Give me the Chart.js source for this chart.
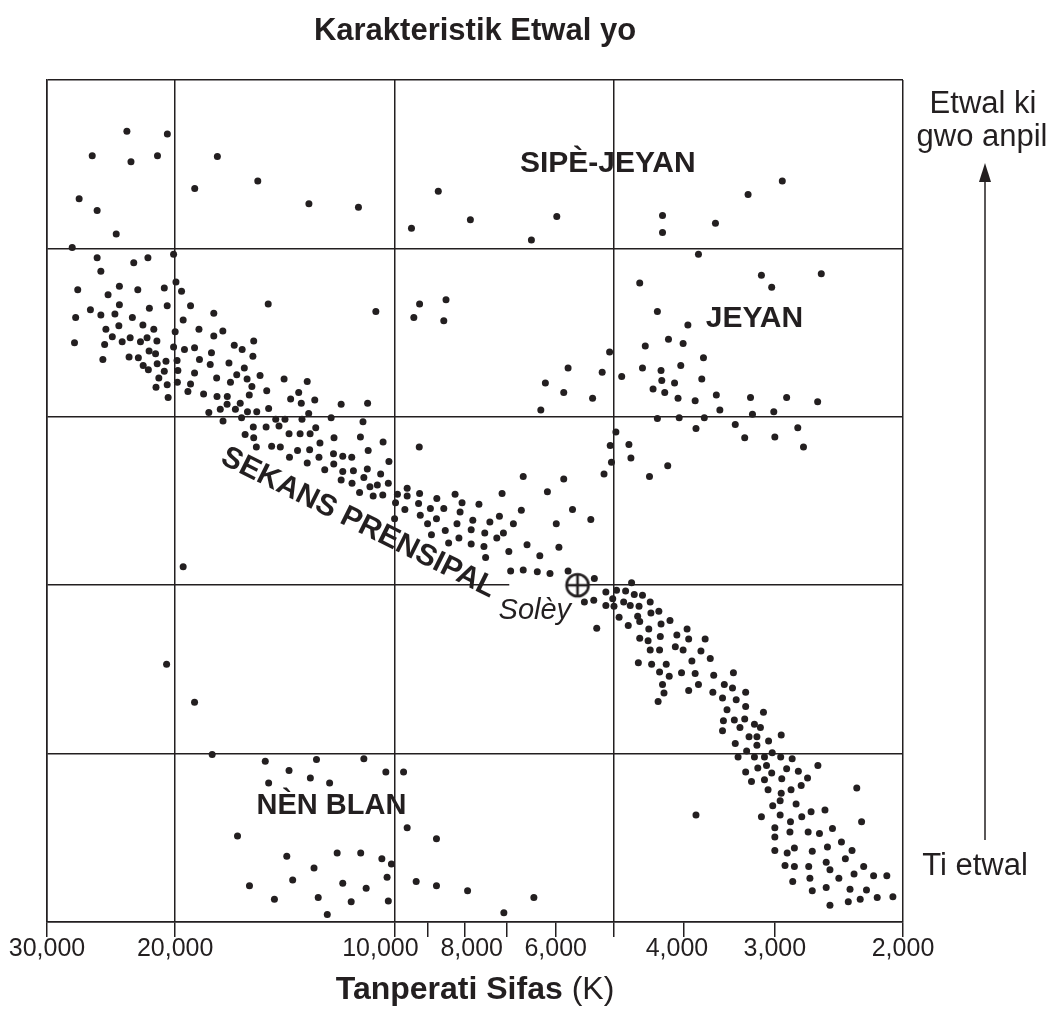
<!DOCTYPE html>
<html>
<head>
<meta charset="utf-8">
<script src="https://cdn.jsdelivr.net/npm/chart.js@4.4.1/dist/chart.umd.min.js"></script>
<style>
  html, body { margin: 0; padding: 0; background: #fff; }
</style>
</head>
<body>
<canvas id="graficoEtwal" width="1047" height="1018"></canvas>
<script>
// Surface temperature (K) of the axis ticks
const labeledTemps = [30000, 20000, 10000, 8000, 6000, 4000, 3000, 2000];
const tickTemps = [30000, 20000, 10000, 9000, 8000, 7000, 6000, 5000, 4000, 3000, 2000];
const gridTemps = [30000, 20000, 10000, 5000, 2000];

// Stars as [temperature K, log luminosity]
const superGiants = [
  [23300, 5.39], [20500, 5.36], [26000, 5.10], [23000, 5.03], [21150, 5.10], [17500, 5.09],
  [15400, 4.80], [18800, 4.71], [13100, 4.53], [27100, 4.59], [25600, 4.45], [24100, 4.17],
  [11200, 4.49], [8700, 4.68], [9470, 4.24], [7860, 4.34], [6480, 4.10], [5980, 4.38],
  [4280, 4.39], [4280, 4.19], [3620, 4.30], [3265, 4.64], [2930, 4.80]
];

const giants = [
  [3820, 3.93], [4600, 3.59], [3130, 3.68], [2590, 3.70], [3030, 3.54], [4350, 3.25], [3950, 3.09],
  [5060, 2.77], [4520, 2.84], [4200, 2.92], [4010, 2.87], [3760, 2.70], [4560, 2.58], [4300, 2.55],
  [4040, 2.61], [4870, 2.48], [4290, 2.43], [4120, 2.40], [3780, 2.45], [4410, 2.33], [4250, 2.29],
  [4075, 2.22], [3860, 2.19], [3610, 2.26], [3240, 2.23], [2890, 2.23], [2620, 2.18], [3570, 2.08],
  [3220, 2.03], [3010, 2.06], [4350, 1.98], [4060, 1.99], [3750, 1.99], [3850, 1.86], [3400, 1.91],
  [3300, 1.75], [3000, 1.76], [2790, 1.87], [2740, 1.64], [4960, 1.82], [5050, 1.66], [4760, 1.67],
  [5030, 1.46], [4730, 1.51], [4210, 1.42], [4460, 1.29], [5770, 2.58], [6200, 2.40], [5180, 2.53],
  [5850, 2.29], [5340, 2.22], [6290, 2.08], [10600, 3.25], [9230, 3.34], [8490, 3.39], [9400, 3.18],
  [8550, 3.14]
];

const mainSequence = [
  [27700, 4.01], [25600, 3.89], [22800, 3.83], [21800, 3.89], [20100, 3.93], [25300, 3.73], [19950, 3.60],
  [27220, 3.51], [23860, 3.55], [22510, 3.51], [20700, 3.53], [19600, 3.49], [24730, 3.45], [26150, 3.27],
  [23860, 3.33], [21700, 3.29], [20510, 3.32], [19050, 3.32], [27400, 3.18], [25300, 3.21], [24200, 3.22],
  [22900, 3.18], [19500, 3.15], [17700, 3.23], [14900, 3.34], [24900, 3.04], [23900, 3.08], [22150, 3.09],
  [21400, 3.04], [20000, 3.01], [18550, 3.04], [17200, 3.02], [17700, 2.96], [27500, 2.88], [25000, 2.86],
  [24400, 2.95], [23650, 2.89], [23060, 2.94], [22320, 2.89], [21860, 2.94], [21190, 2.90], [20100, 2.83],
  [19420, 2.80], [18810, 2.82], [16590, 2.85], [16180, 2.80], [15600, 2.90], [21720, 2.78], [21280, 2.75],
  [25140, 2.68], [23140, 2.71], [22470, 2.70], [20590, 2.66], [19880, 2.67], [18520, 2.68], [17830, 2.76],
  [15640, 2.72], [22130, 2.61], [21170, 2.63], [17900, 2.62], [16870, 2.64], [16070, 2.58], [21770, 2.56],
  [20700, 2.54], [19830, 2.55], [18810, 2.52], [16460, 2.50], [15290, 2.49], [21060, 2.46], [17540, 2.46],
  [15930, 2.45], [14170, 2.45], [13170, 2.42], [20510, 2.38], [19860, 2.41], [19050, 2.39], [16790, 2.41],
  [15690, 2.36], [21250, 2.35], [19210, 2.30], [18280, 2.27], [17520, 2.24], [16960, 2.24], [15820, 2.26],
  [14970, 2.31], [13530, 2.29], [20450, 2.23], [13880, 2.21], [13420, 2.16], [12860, 2.20], [16970, 2.15],
  [16280, 2.16], [17340, 2.09], [17980, 2.05], [16530, 2.09], [15910, 2.06], [15450, 2.06], [14880, 2.10],
  [13110, 2.04], [17190, 1.95], [16210, 1.99], [14550, 1.97], [14130, 1.97], [13390, 1.97], [12210, 1.99],
  [15620, 1.88], [15000, 1.88], [14400, 1.89], [12820, 1.87], [16030, 1.79], [15600, 1.75], [13950, 1.80],
  [13470, 1.80], [13050, 1.80], [12650, 1.69], [15470, 1.64], [14740, 1.65], [14340, 1.64], [13580, 1.60],
  [13070, 1.61], [13930, 1.52], [12690, 1.52], [13170, 1.45], [12460, 1.37],
  [11830, 2.15], [10880, 2.16], [11040, 1.94], [12100, 1.75], [11130, 1.76], [10360, 1.70], [10860, 1.60],
  [12120, 1.56], [11770, 1.53], [11440, 1.52], [10170, 1.47], [12110, 1.44], [11770, 1.35], [11380, 1.36],
  [10890, 1.38], [10440, 1.32], [11010, 1.28], [11830, 1.25], [11430, 1.21], [10800, 1.17], [10550, 1.19],
  [10190, 1.21], [11160, 1.10], [10690, 1.06], [10370, 1.07], [9900, 1.08], [9600, 1.15], [9600, 1.06],
  [9230, 1.09], [8740, 1.03], [8250, 1.08], [9240, 1.64],
  [6650, 1.29], [6160, 1.11], [5850, 1.26], [5150, 1.32], [7110, 1.09],
  [9960, 0.98], [9670, 0.90], [9260, 0.97], [8920, 0.91], [8550, 0.91], [8070, 0.98], [8120, 0.87],
  [7650, 0.96], [9990, 0.79], [9210, 0.83], [9000, 0.73], [8750, 0.79], [8200, 0.73], [7800, 0.77],
  [7390, 0.75], [7170, 0.82], [6860, 0.73], [6690, 0.89], [5690, 0.90], [5370, 0.78], [5990, 0.73],
  [8510, 0.65], [8890, 0.60], [7840, 0.66], [7510, 0.62], [7080, 0.62], [7230, 0.56], [8150, 0.56],
  [8420, 0.50], [7840, 0.49], [7530, 0.46], [6570, 0.48], [5940, 0.45], [6960, 0.40], [6310, 0.35],
  [7490, 0.33], [6920, 0.17], [6650, 0.18], [6360, 0.16], [6110, 0.14], [5770, 0.17], [5310, 0.08],
  [5480, -0.20], [5320, -0.18], [5120, -0.08], [5120, -0.24], [5270, -0.51],
  [4720, 0.03], [4950, -0.06], [4810, -0.07], [4680, -0.11], [4560, -0.12], [5010, -0.16], [4840, -0.20],
  [4740, -0.24], [4610, -0.25], [4450, -0.20], [4990, -0.25], [4330, -0.31], [4440, -0.33], [4630, -0.37],
  [4910, -0.38], [4600, -0.43], [4300, -0.46], [4180, -0.42], [4770, -0.48], [4470, -0.52], [3960, -0.52],
  [4090, -0.59], [4310, -0.61], [3940, -0.64], [3740, -0.64], [4600, -0.63], [4480, -0.66], [4110, -0.73],
  [4010, -0.77], [4450, -0.77], [4320, -0.77], [3790, -0.78], [3900, -0.90], [3680, -0.87], [4620, -0.92],
  [4430, -0.94], [4230, -0.94], [4320, -1.03], [4190, -1.08], [4030, -1.04], [3860, -1.05], [3640, -1.07],
  [3420, -1.04], [4280, -1.18], [3820, -1.18], [3520, -1.18], [4260, -1.28], [3940, -1.25], [3650, -1.27],
  [3430, -1.22], [3290, -1.27], [4340, -1.38], [3540, -1.34], [3390, -1.36], [3290, -1.44], [3490, -1.48],
  [3110, -1.51], [3530, -1.61], [3410, -1.60], [3300, -1.59], [3200, -1.65], [3140, -1.69], [3350, -1.69],
  [3540, -1.73], [3255, -1.80], [3175, -1.80], [3060, -1.85], [2940, -1.78], [3400, -1.88], [3175, -1.90],
  [3280, -1.97], [3025, -1.99], [3370, -2.04], [3200, -2.04], [3100, -2.04], [2945, -2.04], [2840, -2.06],
  [2618, -2.14], [3080, -2.14], [3166, -2.17], [3290, -2.22], [3030, -2.23], [2890, -2.18], [2785, -2.21],
  [3230, -2.33], [3100, -2.31], [2935, -2.30], [2705, -2.29], [2760, -2.38], [3065, -2.43], [2850, -2.43],
  [2940, -2.47], [2315, -2.41], [2805, -2.60], [2950, -2.56], [3020, -2.62], [3850, -2.73], [3130, -2.75],
  [2950, -2.73], [2755, -2.75], [2675, -2.69], [2560, -2.67], [2280, -2.81], [2855, -2.81], [3000, -2.88],
  [3000, -2.99], [2860, -2.93], [2700, -2.93], [2605, -2.95], [2500, -2.89], [2430, -3.05], [2350, -3.15],
  [2540, -3.11], [2665, -3.16], [2820, -3.12], [2885, -3.18], [3000, -3.15], [2400, -3.25], [2550, -3.29],
  [2905, -3.33], [2820, -3.34], [2695, -3.34], [2520, -3.38], [2265, -3.34], [2335, -3.43], [2195, -3.45],
  [2105, -3.45], [2450, -3.48], [2685, -3.48], [2835, -3.52], [2550, -3.59], [2365, -3.61], [2245, -3.62],
  [2665, -3.63], [2170, -3.71], [2065, -3.70], [2290, -3.73], [2378, -3.76], [2520, -3.80]
];

const scattered = [[19500, 0.22], [20550, -0.94], [18810, -1.39], [17790, -2.01]];

const whiteDwarfs = [
  [15040, -2.09], [13950, -2.20], [12790, -2.07], [14880, -2.35], [13040, -2.29], [12270, -2.35],
  [16420, -2.98], [14050, -3.22], [12890, -3.36], [15810, -3.57], [13790, -3.50], [14610, -3.73],
  [12720, -3.71], [12360, -3.91], [11010, -2.06], [10270, -2.22], [9710, -2.22], [9600, -2.88],
  [8750, -3.01], [11980, -3.18], [11120, -3.18], [10400, -3.25], [10090, -3.31], [11770, -3.54],
  [10930, -3.60], [10230, -3.47], [9330, -3.52], [8750, -3.57], [7930, -3.63], [6430, -3.71],
  [11460, -3.76], [10190, -3.75], [7070, -3.89]
];

const sun = [[5600, 0]];

const INK = "#231f20";
const FONT = '"Liberation Sans", Arial, Helvetica, sans-serif';

function toPoints(lista) {
  return lista.map(([x, y]) => ({ x, y }));
}

// Sun symbol: circle with a cross
function sunSymbol() {
  const c = document.createElement("canvas");
  c.width = 28;
  c.height = 28;
  const g = c.getContext("2d");
  g.strokeStyle = INK;
  g.fillStyle = "#fff";
  g.lineWidth = 2.6;
  g.beginPath();
  g.arc(14, 14, 11, 0, Math.PI * 2);
  g.fill();
  g.stroke();
  g.beginPath();
  g.moveTo(3, 14); g.lineTo(25, 14);
  g.moveTo(14, 3); g.lineTo(14, 25);
  g.stroke();
  return c;
}

// tick labels: 10,000 and 4,000 sit a bit left of their tick, 8,000 a bit right
function tickLabel(value) {
  if (!labeledTemps.includes(value)) return "";
  const texto = value.toLocaleString("en-US");
  if (value === 10000) return texto + "\u00a0\u00a0\u00a0\u00a0";
  if (value === 4000) return texto + "\u00a0\u00a0";
  if (value === 8000) return "\u00a0\u00a0" + texto;
  return texto;
}

const textos = {
  id: "textos",
  beforeDatasetsDraw(chart) {
    // gap in the horizontal line left of the Sun
    const { ctx, scales: { x, y } } = chart;
    const x1 = x.getPixelForValue(6950);
    const x2 = x.getPixelForValue(5600);
    ctx.save();
    ctx.fillStyle = "#fff";
    ctx.fillRect(x1, y.getPixelForValue(0) - 2, x2 - x1, 4);
    ctx.restore();
  },
  afterDraw(chart) {
    const { ctx, chartArea, scales: { x, y } } = chart;
    const cx = (chartArea.left + chartArea.right) / 2;
    ctx.save();
    ctx.fillStyle = INK;
    ctx.textAlign = "center";
    ctx.textBaseline = "middle";

    ctx.font = "bold 31px " + FONT;
    ctx.fillText("Karakteristik Etwal yo", cx, 31);

    ctx.font = "bold 30px " + FONT;
    ctx.fillText("SIPÈ-JEYAN", x.getPixelForValue(5090), y.getPixelForValue(5.01));
    ctx.fillText("JEYAN", x.getPixelForValue(3200), y.getPixelForValue(3.17));
    ctx.font = "bold 29px " + FONT;
    ctx.fillText("NÈN BLAN", x.getPixelForValue(12200), y.getPixelForValue(-2.62));

    ctx.font = "bold 30px " + FONT;
    ctx.save();
    ctx.translate(x.getPixelForValue(11200), y.getPixelForValue(0.74));
    ctx.rotate(26.5 * Math.PI / 180);
    ctx.fillText("SEKANS PRENSIPAL", 0, 0);
    ctx.restore();

    ctx.font = "italic 29px " + FONT;
    ctx.fillText("Solèy", x.getPixelForValue(6410), y.getPixelForValue(-0.31));

    // luminosity arrow on the right
    const ax = 985;
    ctx.font = "31px " + FONT;
    ctx.fillText("Etwal ki", 983, 104);
    ctx.fillText("gwo anpil", 982, 137);
    ctx.fillText("Ti etwal", 975, 866);
    ctx.strokeStyle = INK;
    ctx.lineWidth = 1.5;
    ctx.beginPath();
    ctx.moveTo(ax, 840);
    ctx.lineTo(ax, 175);
    ctx.stroke();
    ctx.beginPath();
    ctx.moveTo(ax, 163);
    ctx.lineTo(ax - 6, 182);
    ctx.lineTo(ax + 6, 182);
    ctx.closePath();
    ctx.fill();

    // axis title, bold part + regular part
    const parte1 = "Tanperati Sifas";
    const parte2 = " (K)";
    ctx.font = "bold 32px " + FONT;
    const w1 = ctx.measureText(parte1).width;
    ctx.font = "32px " + FONT;
    const w2 = ctx.measureText(parte2).width;
    const x0 = cx - (w1 + w2) / 2;
    ctx.textAlign = "left";
    ctx.font = "bold 32px " + FONT;
    ctx.fillText(parte1, x0, 990);
    ctx.font = "32px " + FONT;
    ctx.fillText(parte2, x0 + w1, 990);
    ctx.restore();
  }
};

const pontoEstilo = {
  pointRadius: 3.5,
  pointBackgroundColor: INK,
  pointBorderWidth: 0,
  showLine: false
};

const ctx = document.getElementById("graficoEtwal").getContext("2d");

window.graficoEtwal = new Chart(ctx, {
  type: "scatter",
  data: {
    datasets: [
      { label: "Sipè-jeyan", data: toPoints(superGiants), ...pontoEstilo },
      { label: "Jeyan", data: toPoints(giants), ...pontoEstilo },
      { label: "Sekans prensipal", data: toPoints(mainSequence), ...pontoEstilo },
      { label: "Lòt", data: toPoints(scattered), ...pontoEstilo },
      { label: "Nèn blan", data: toPoints(whiteDwarfs), ...pontoEstilo },
      { label: "Solèy", data: toPoints(sun), pointStyle: sunSymbol(), pointRadius: 14, showLine: false }
    ]
  },
  options: {
    responsive: false,
    animation: false,
    events: [],
    layout: { padding: { left: 47, right: 144, top: 80, bottom: 0 } },
    plugins: {
      legend: { display: false },
      tooltip: { enabled: false }
    },
    scales: {
      x: {
        type: "logarithmic",
        reverse: true,
        min: 2000,
        max: 30000,
        afterBuildTicks: scale => {
          scale.ticks = tickTemps.map(v => ({ value: v }));
        },
        afterFit: scale => { scale.height = 96; },
        border: { display: true, color: INK, width: 1.5 },
        grid: {
          color: c => (c.tick && gridTemps.includes(c.tick.value)) ? INK : "rgba(0,0,0,0)",
          tickColor: INK,
          lineWidth: 1.5,
          tickLength: 15,
          drawTicks: true
        },
        ticks: {
          autoSkip: false,
          maxRotation: 0,
          padding: -3,
          color: INK,
          font: { family: FONT, size: 25 },
          callback: tickLabel
        }
      },
      y: {
        type: "linear",
        min: -4,
        max: 6,
        afterFit: scale => { scale.width = 0; },
        border: { display: true, color: INK, width: 1.5 },
        grid: { color: INK, lineWidth: 1.5, drawTicks: false },
        ticks: { display: false, stepSize: 2 }
      }
    }
  },
  plugins: [textos]
});
</script>
</body>
</html>
